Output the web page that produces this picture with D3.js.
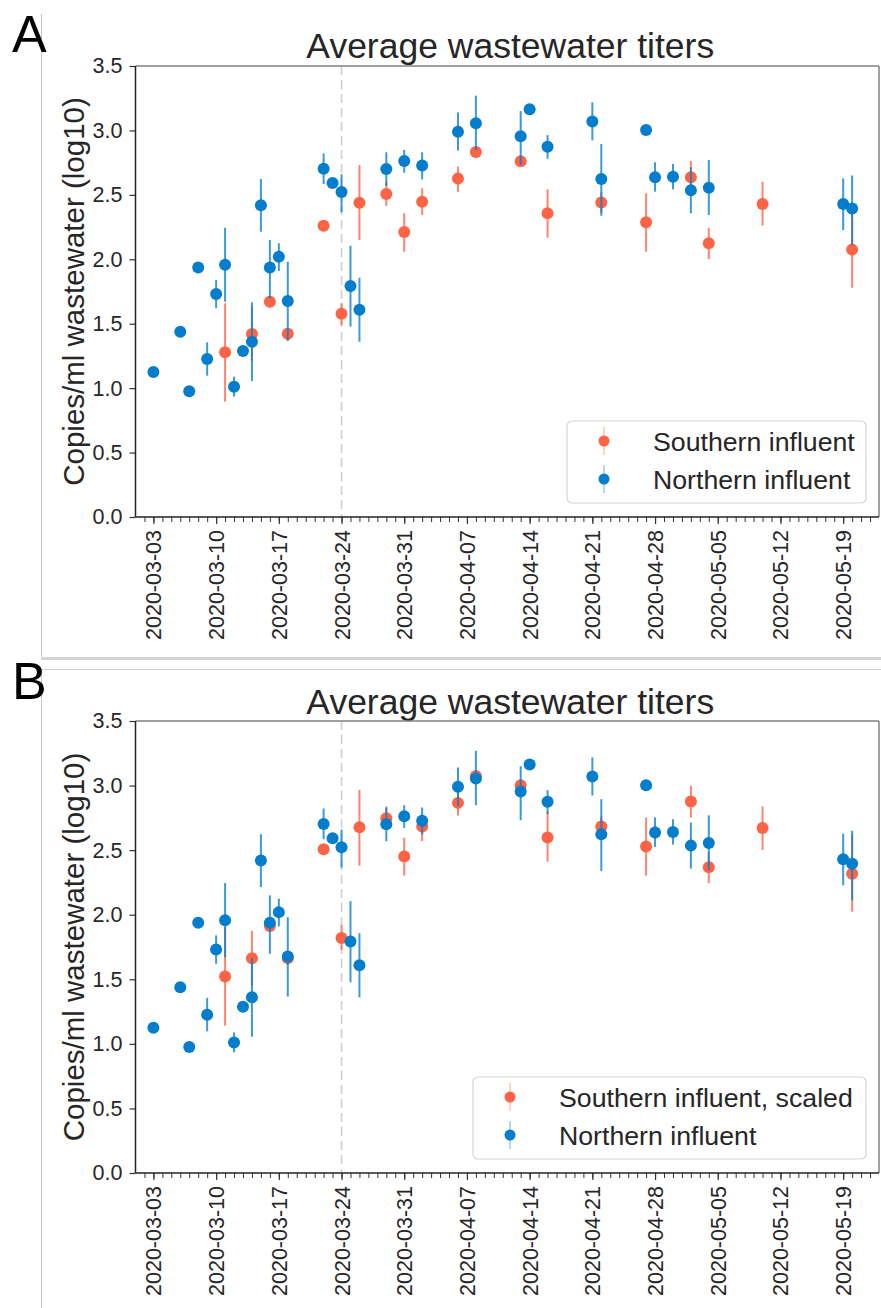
<!DOCTYPE html>
<html><head><meta charset="utf-8">
<script src="https://cdn.jsdelivr.net/npm/d3@7"></script>
<style>
html,body{margin:0;padding:0;background:#fff;}
svg{display:block;font-family:"Liberation Sans",Arial,sans-serif;}
</style></head>
<body>
<svg id="chart" width="881" height="1308"></svg>
<script>
// ---------------- DATA ----------------
const northDates = ["2020-03-03","2020-03-06","2020-03-07","2020-03-08","2020-03-09","2020-03-10","2020-03-11","2020-03-12","2020-03-13","2020-03-14","2020-03-15","2020-03-16","2020-03-17","2020-03-18","2020-03-22","2020-03-23","2020-03-24","2020-03-25","2020-03-26","2020-03-29","2020-03-31","2020-04-02","2020-04-06","2020-04-08","2020-04-13","2020-04-14","2020-04-16","2020-04-21","2020-04-22","2020-04-27","2020-04-28","2020-04-30","2020-05-02","2020-05-04","2020-05-19","2020-05-20"];
const northValues = [1.125,1.438,0.975,1.937,1.226,1.73,1.958,1.011,1.288,1.36,2.419,1.937,2.02,1.676,2.703,2.592,2.522,1.793,1.609,2.70,2.763,2.727,2.99,3.055,2.954,3.164,2.874,3.07,2.623,3.003,2.636,2.641,2.535,2.555,2.429,2.395];
const northLow   = [1.115,1.428,0.965,1.927,1.097,1.62,1.671,0.934,1.278,1.055,2.214,1.697,1.909,1.366,2.584,2.582,2.365,1.477,1.36,2.569,2.672,2.62,2.843,2.848,2.732,3.13,2.78,2.923,2.338,2.99,2.525,2.543,2.357,2.344,2.227,2.11];
const northHigh  = [1.135,1.448,0.985,1.947,1.356,1.84,2.245,1.089,1.298,1.666,2.623,2.15,2.124,1.981,2.822,2.602,2.66,2.105,1.857,2.83,2.848,2.83,3.14,3.27,3.15,3.19,2.964,3.218,2.895,3.02,2.753,2.739,2.714,2.77,2.628,2.65];

const southDates = ["2020-03-11","2020-03-14","2020-03-16","2020-03-18","2020-03-22","2020-03-24","2020-03-26","2020-03-29","2020-03-31","2020-04-02","2020-04-06","2020-04-08","2020-04-13","2020-04-16","2020-04-22","2020-04-27","2020-05-02","2020-05-04","2020-05-10","2020-05-20"];
// Panel A: Southern influent
const southValuesA = [1.278,1.42,1.671,1.422,2.261,1.578,2.439,2.507,2.212,2.447,2.626,2.833,2.76,2.357,2.44,2.287,2.636,2.124,2.429,2.075];
const southLowA    = [0.895,1.21,1.63,1.37,2.25,1.49,2.15,2.414,2.059,2.344,2.525,2.80,2.74,2.168,2.36,2.059,2.516,2.002,2.261,1.78];
const southHighA   = [1.658,1.63,1.70,1.47,2.27,1.66,2.732,2.60,2.357,2.551,2.719,2.86,2.78,2.543,2.52,2.512,2.763,2.245,2.602,2.382];
// Panel B: Southern influent, scaled
const southValuesB = [1.521,1.663,1.913,1.663,2.507,1.82,2.678,2.747,2.45,2.683,2.866,3.075,3.003,2.597,2.683,2.528,2.876,2.368,2.672,2.318];
const southLowB    = [1.141,1.45,1.87,1.61,2.495,1.727,2.38,2.66,2.303,2.57,2.768,3.04,2.98,2.411,2.60,2.303,2.752,2.244,2.502,2.024];
const southHighB   = [1.90,1.875,1.95,1.71,2.52,1.921,2.967,2.838,2.597,2.76,2.954,3.10,3.02,2.799,2.76,2.752,2.998,2.484,2.838,2.62];

const yTicks = [0,0.5,1.0,1.5,2.0,2.5,3.0,3.5];
const xTickLabels = ["2020-03-03","2020-03-10","2020-03-17","2020-03-24","2020-03-31","2020-04-07","2020-04-14","2020-04-21","2020-04-28","2020-05-05","2020-05-12","2020-05-19"];
const lockdownDate = "2020-03-24";
const titleText = "Average wastewater titers";
const yLabelText = "Copies/ml wastewater (log10)";
const northLabel = "Northern influent";

// ---------------- DRAW ----------------
const parse = d3.utcParse("%Y-%m-%d");
const fmt = d3.utcFormat("%Y-%m-%d");
const RED = "#fd6344", BLUE = "#047dcc";
const svg = d3.select("#chart");

const left = 135.5, right = 879;
const x = d3.scaleUtc().domain([parse("2020-03-01"), parse("2020-05-23")]).range([left, right]);

// composite figure decorations
svg.append("line").attr("x1",41.5).attr("x2",41.5).attr("y1",14).attr("y2",658).attr("stroke","#c8c8c8").attr("stroke-width",1);
svg.append("line").attr("x1",41.5).attr("x2",41.5).attr("y1",669).attr("y2",1308).attr("stroke","#c8c8c8").attr("stroke-width",1);
svg.append("rect").attr("x",41).attr("y",657).attr("width",840).attr("height",3).attr("fill","#d4d4d4");
svg.append("line").attr("x1",41).attr("x2",881).attr("y1",669.5).attr("y2",669.5).attr("stroke","#cccccc").attr("stroke-width",1);

function zip(dates, v, lo, hi){ return dates.map((d,i)=>({date:parse(d), v:v[i], lo:lo[i], hi:hi[i]})); }

const panels = [
  {top:66, bottom:517, letter:"A", letterY:52, titleY:58,
   south: zip(southDates, southValuesA, southLowA, southHighA), southLabel:"Southern influent",
   legend:{x:567, y:421, w:299, h:82}},
  {top:721, bottom:1173, letter:"B", letterY:699, titleY:714,
   south: zip(southDates, southValuesB, southLowB, southHighB), southLabel:"Southern influent, scaled",
   legend:{x:473, y:1077, w:393, h:82}}
];
const north = zip(northDates, northValues, northLow, northHigh);

panels.forEach(p => {
  const y = d3.scaleLinear().domain([0,3.5]).range([p.bottom, p.top]);
  const g = svg.append("g");

  // panel letter
  svg.append("text").attr("x",12).attr("y",p.letterY).attr("font-size",52).attr("fill","#000").text(p.letter);

  // title
  g.append("text").attr("x",(left+right)/2+3).attr("y",p.titleY).attr("text-anchor","middle")
    .attr("font-size",35.5).attr("fill","#262626").text(titleText);

  // dashed line
  g.append("line").attr("x1",x(parse(lockdownDate))).attr("x2",x(parse(lockdownDate)))
    .attr("y1",p.top).attr("y2",p.bottom).attr("stroke","#cfcfcf").attr("stroke-width",1.6).attr("stroke-dasharray","9,5");

  // series
  function drawSeries(data, color){
    const s = g.append("g");
    s.selectAll("line.err").data(data).join("line").attr("class","err")
      .attr("x1",d=>x(d.date)).attr("x2",d=>x(d.date))
      .attr("y1",d=>y(d.lo)).attr("y2",d=>y(d.hi))
      .attr("stroke",color).attr("stroke-width",2).attr("stroke-opacity",0.78);
    s.selectAll("circle").data(data).join("circle")
      .attr("cx",d=>x(d.date)).attr("cy",d=>y(d.v)).attr("r",6).attr("fill",color);
  }
  drawSeries(p.south, RED);
  drawSeries(north, BLUE);

  // minor x ticks (daily)
  const minor = d3.axisBottom(x).tickValues(d3.utcDay.range(parse("2020-03-02"), parse("2020-05-23"))).tickSize(5).tickFormat("");
  const gm = g.append("g").attr("transform",`translate(0,${p.bottom})`).call(minor);
  gm.select(".domain").remove();
  gm.selectAll("line").attr("stroke","#333").attr("stroke-width",1);

  // major x axis
  const xa = d3.axisBottom(x).tickValues(xTickLabels.map(parse)).tickFormat(fmt).tickSize(7);
  const gx = g.append("g").attr("transform",`translate(0,${p.bottom})`).call(xa);
  gx.select(".domain").remove();
  gx.selectAll("line").attr("stroke","#333").attr("stroke-width",1.2);
  gx.selectAll("text").attr("transform","rotate(-90)").attr("x",-13).attr("y",0).attr("dy","0.35em")
    .attr("text-anchor","end").attr("font-size",21.5).attr("fill","#262626").attr("font-family","'Liberation Sans',Arial,sans-serif");

  // y axis
  const ya = d3.axisLeft(y).tickValues(yTicks).tickFormat(d3.format(".1f")).tickSize(6).tickPadding(7);
  const gy = g.append("g").attr("transform",`translate(${left},0)`).call(ya);
  gy.select(".domain").remove();
  gy.selectAll("line").attr("stroke","#333").attr("stroke-width",1.2);
  gy.selectAll("text").attr("font-size",21.5).attr("fill","#262626").attr("font-family","'Liberation Sans',Arial,sans-serif");

  // y label
  g.append("text").attr("transform",`translate(84,${(p.top+p.bottom)/2}) rotate(-90)`)
    .attr("text-anchor","middle").attr("font-size",29.5).attr("fill","#262626").text(yLabelText);

  // spines
  g.append("line").attr("x1",left).attr("x2",right).attr("y1",p.top).attr("y2",p.top).attr("stroke","#808080").attr("stroke-width",1.5);
  g.append("line").attr("x1",right).attr("x2",right).attr("y1",p.top).attr("y2",p.bottom).attr("stroke","#808080").attr("stroke-width",1.5);
  g.append("line").attr("x1",left).attr("x2",left).attr("y1",p.top).attr("y2",p.bottom).attr("stroke","#222").attr("stroke-width",1.5);
  g.append("line").attr("x1",left).attr("x2",right).attr("y1",p.bottom).attr("y2",p.bottom).attr("stroke","#222").attr("stroke-width",1.5);

  // legend
  const L = p.legend;
  const lg = g.append("g");
  lg.append("rect").attr("x",L.x).attr("y",L.y).attr("width",L.w).attr("height",L.h).attr("rx",5)
    .attr("fill","#fff").attr("fill-opacity",0.85).attr("stroke","#d6d6d6").attr("stroke-width",1.2);
  const items = [{label:p.southLabel, color:RED, dy:20},{label:northLabel, color:BLUE, dy:58}];
  items.forEach(it => {
    const cy = L.y + it.dy, cx = L.x + 37;
    lg.append("line").attr("x1",cx).attr("x2",cx).attr("y1",cy-14).attr("y2",cy+14).attr("stroke",it.color).attr("stroke-opacity",0.3).attr("stroke-width",2);
    lg.append("circle").attr("cx",cx).attr("cy",cy).attr("r",5.5).attr("fill",it.color);
    lg.append("text").attr("x",L.x+86).attr("y",cy).attr("dy","0.36em").attr("font-size",26.7).attr("fill","#262626").text(it.label);
  });
});
</script>
</body></html>
